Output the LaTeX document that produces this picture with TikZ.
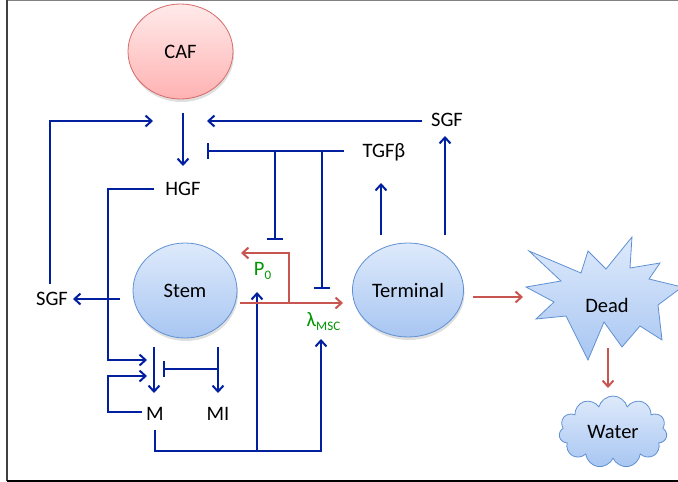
\documentclass[tikz,border=0pt]{standalone}
\usepackage{fontspec}
\setmainfont{Carlito}
\usetikzlibrary{arrows.meta,shapes.geometric,shapes.symbols,shadows}

\definecolor{linkblu}{RGB}{0,32,160}
\definecolor{linkred}{RGB}{200,85,80}
\definecolor{ratecol}{RGB}{0,150,0}
\definecolor{cellfill}{RGB}{222,234,251}
\definecolor{cellfillb}{RGB}{168,198,242}
\definecolor{celldraw}{RGB}{95,145,210}
\definecolor{caffill}{RGB}{255,234,234}
\definecolor{caffillb}{RGB}{255,178,178}
\definecolor{cafdraw}{RGB}{215,105,105}

\newcommand{\pedice}[1]{\raisebox{-4pt}{\fontsize{13}{13}\selectfont #1}}

\tikzset{
    cell/.style={ellipse, draw=celldraw, line width=0.8pt, top color=cellfill, bottom color=cellfillb,
        minimum width=104pt, minimum height=95pt, drop shadow={opacity=0.25, shadow xshift=1pt, shadow yshift=-3pt}},
    lbl/.style={inner sep=0pt, text height=13pt, text depth=0pt},
    act/.style={linkblu, line width=2pt, ->},
    inh/.style={linkblu, line width=2pt, -{Bar[width=16pt]}},
    flow/.style={linkred, line width=2pt, ->},
}

\begin{document}
\begin{tikzpicture}[x=1pt, y=-1pt, >={Straight Barb[length=6pt,width=11pt]}, font=\fontsize{20.5}{24}\selectfont]
    \useasboundingbox (0,0) rectangle (678,482);
    \draw[gray, line width=1pt] (7,0.5) -- (678,0.5);
    \draw[black!75, line width=1.3pt] (7,0) -- (7,481);
    \draw[black, line width=1.5pt] (7,481) -- (678,481);

    % Cellule
    \node[cell, draw=cafdraw, top color=caffill, bottom color=caffillb, minimum width=105pt] (caf) at (180.5,51.5) {CAF};
    \node[cell] (stem) at (185,290.5) {Stem};
    \node[cell, minimum width=103pt, minimum height=94pt] (term) at (408,290) {Terminal};
    \path[draw=celldraw, line width=0.8pt, top color=cellfill, bottom color=cellfillb]
        (529,251) -- (581,273) -- (588,251) -- (606,269) -- (632,237) -- (630,268) -- (660,263) -- (649,279)
        -- (682,287) -- (658,305) -- (662,340) -- (640,326) -- (622,347) -- (604,322) -- (588,360) -- (566,316)
        -- (536,319) -- (554,302) -- (526,287) -- (561,281) -- cycle;
    \node (dead) at (607,305) {Dead};
    \node[cloud, cloud puffs=11, cloud ignores aspect, minimum width=108pt, minimum height=72pt,
        draw=celldraw, line width=0.8pt, top color=cellfill, bottom color=cellfillb] (water) at (613,432) {Water};

    % Segnali
    \node[lbl] (hgf) at (183,189) {HGF};
    \node[lbl] (tgf) at (384,151) {TGFβ};
    \node[lbl] (sgfr) at (447,120) {SGF};
    \node[lbl] (sgfl) at (52,299) {SGF};
    \node[lbl] (m) at (155,414) {M};
    \node[lbl] (mi) at (218,414) {MI};
    \node[lbl, ratecol] (pzero) at (262.5,268.5) {P\pedice{0}};
    \node[lbl, ratecol] (lam) at (323.5,319.5) {λ\pedice{MSC}};

    % Punti di aggancio
    \coordinate (lin) at (153,121);
    \coordinate (rin) at (207,121);
    \coordinate (cafo) at (183,113);
    \coordinate (hgfin) at (183,166);
    \coordinate (sgfro) at (422,121);
    \coordinate (sgfri) at (445,136);
    \coordinate (sgflo) at (50,284);
    \coordinate (tgfo) at (344,151);
    \coordinate (tgfi) at (381,183);
    \coordinate (hgfbar) at (207,151);
    \coordinate (tgfa) at (275,151);
    \coordinate (tgfb) at (322,151);
    \coordinate (pbar) at (275,240);
    \coordinate (lbar) at (322,289);
    \coordinate (hgfo) at (154,189);
    \coordinate (lcol) at (108,0);
    \coordinate (bot) at (0,451);
    \coordinate (mina) at (147,360);
    \coordinate (minb) at (147,376);
    \coordinate (mo) at (142,412);
    \coordinate (mdown) at (155,430);
    \coordinate (stemo) at (120,299);
    \coordinate (sgfli) at (73,299);
    \coordinate (mtop) at (154,347);
    \coordinate (mtip) at (154,393);
    \coordinate (mitop) at (218,347);
    \coordinate (mitip) at (218,393);
    \coordinate (mibar) at (218,369);
    \coordinate (mbar) at (163,369);
    \coordinate (pin) at (257,292);
    \coordinate (lamin) at (321,339);
    \coordinate (termtop) at (381,235);
    \coordinate (termtopr) at (445,235);
    \coordinate (stemr) at (240,303);
    \coordinate (termin) at (343,303);
    \coordinate (brk) at (289,303);
    \coordinate (pout) at (241,253);
    \coordinate (termr) at (473,297);
    \coordinate (deadin) at (523,297);
    \coordinate (deado) at (608,348);
    \coordinate (waterin) at (608,388);

    % Regolazione (blu)
    \draw[act] (cafo) -- (hgfin);
    \draw[act] (sgflo) |- (lin);
    \draw[act] (sgfro) -- (rin);
    \draw[inh] (tgfo) -- (hgfbar);
    \draw[inh] (tgfa) -- (pbar);
    \draw[inh] (tgfb) -- (lbar);
    \draw[act] (hgfo) -| (lcol |- mina) -- (mina);
    \draw[act] (mo) -| (lcol |- minb) -- (minb);
    \draw[act] (stemo) -- (sgfli);
    \draw[act] (mtop) -- (mtip);
    \draw[act] (mitop) -- (mitip);
    \draw[inh] (mibar) -- (mbar);
    \draw[act] (mdown) -- (mdown |- bot) -| (lamin);
    \draw[act] (pin |- bot) -- (pin);
    \draw[act] (termtop) -- (tgfi);
    \draw[act] (termtopr) -- (sgfri);

    % Flusso cellulare (rosso)
    \draw[flow] (stemr) -- (termin);
    \draw[flow] (brk) |- (pout);
    \draw[flow] (termr) -- (deadin);
    \draw[flow] (deado) -- (waterin);
\end{tikzpicture}
\end{document}
